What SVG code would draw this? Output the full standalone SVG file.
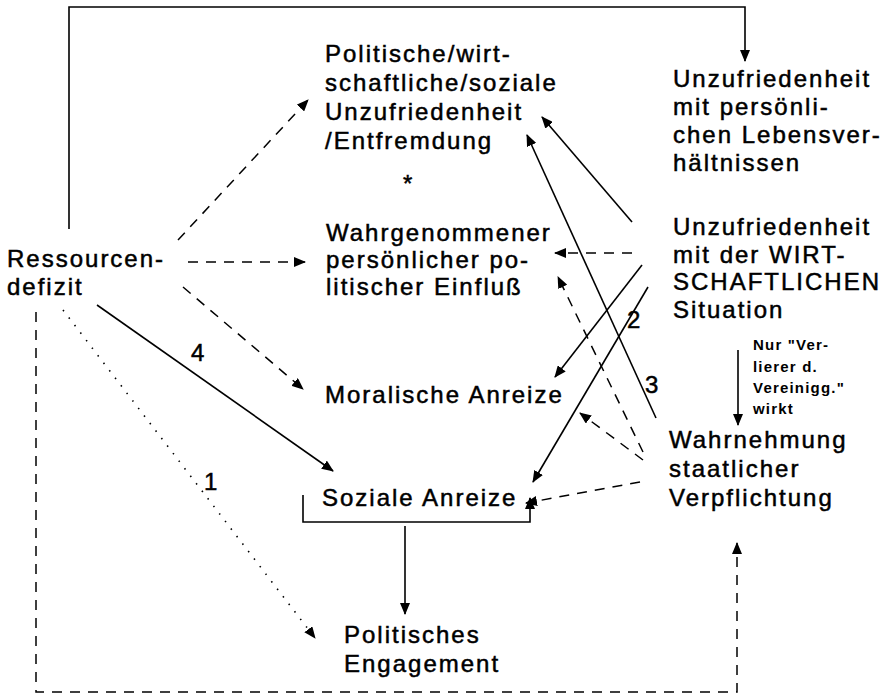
<svg xmlns="http://www.w3.org/2000/svg" width="885" height="698" viewBox="0 0 885 698">
<defs>
<marker id="ah" viewBox="0 0 12 10" refX="11" refY="5" markerWidth="12" markerHeight="10" markerUnits="userSpaceOnUse" orient="auto">
<path d="M0,0 L12,5 L0,10 Z" fill="#000"/>
</marker>
</defs>
<style>
.t{font-family:"Liberation Sans",Arial,sans-serif;font-size:24px;letter-spacing:2px;fill:#000;stroke:#000;stroke-width:0.5}
.s{font-family:"Liberation Sans",Arial,sans-serif;font-size:15px;font-weight:bold;letter-spacing:1.2px;fill:#000}
.l{fill:none;stroke:#000;stroke-width:1.6}
.d{fill:none;stroke:#000;stroke-width:1.5;stroke-dasharray:10 8}
.o{fill:none;stroke:#000;stroke-width:1.6;stroke-dasharray:1.5 8}
.a{marker-end:url(#ah)}
</style>
<rect width="885" height="698" fill="#fff"/>
<g id="connectors">
<polyline class="l a" points="69,229 69,7 745,7 745,61"/>
<polyline class="d a" points="36,312 36,692 737,692 737,543"/>
<line class="d a" x1="178" y1="240" x2="308" y2="100"/>
<line class="d a" x1="188" y1="262" x2="305" y2="262"/>
<line class="d a" x1="183" y1="287" x2="303" y2="389"/>
<line class="l a" x1="97" y1="305" x2="333" y2="471"/>
<line class="o a" x1="63" y1="310" x2="315" y2="638"/>
<line class="l a" x1="632" y1="222" x2="542" y2="117"/>
<line class="l a" x1="656" y1="418" x2="527" y2="135"/>
<line class="d a" x1="632" y1="253" x2="555" y2="253"/>
<line class="l a" x1="642" y1="265" x2="555" y2="377"/>
<line class="l a" x1="648" y1="287" x2="533" y2="482"/>
<line class="d a" x1="643" y1="452" x2="558" y2="277"/>
<line class="d a" x1="643" y1="460" x2="580" y2="413"/>
<line class="d a" x1="640" y1="482" x2="526" y2="503"/>
<polyline class="l a" points="303,495 303,522 530,522 530,498"/>
<line class="l a" x1="405" y1="526" x2="405" y2="614"/>
<line class="l a" x1="738" y1="350" x2="738" y2="425"/>
<text class="t" x="191" y="361">4</text>
<text class="t" x="204" y="490">1</text>
<text class="t" x="627" y="328">2</text>
<text class="t" x="645" y="393">3</text>
</g>
<g id="ressourcen">
<text class="t" x="7" y="267">Ressourcen-</text>
<text class="t" x="7" y="295">defizit</text>
</g>
<g id="politische-unzufriedenheit">
<text class="t" x="325" y="62">Politische/wirt-</text>
<text class="t" x="325" y="91">schaftliche/soziale</text>
<text class="t" x="325" y="120">Unzufriedenheit</text>
<text class="t" x="325" y="149">/Entfremdung</text>
<text class="t" x="403" y="192">*</text>
</g>
<g id="einfluss">
<text class="t" x="326" y="241">Wahrgenommener</text>
<text class="t" x="326" y="268">persönlicher po-</text>
<text class="t" x="326" y="295">litischer Einfluß</text>
</g>
<g id="moralische">
<text class="t" x="325" y="403">Moralische Anreize</text>
</g>
<g id="soziale">
<text class="t" x="322" y="506">Soziale Anreize</text>
</g>
<g id="engagement">
<text class="t" x="344" y="643">Politisches</text>
<text class="t" x="344" y="672">Engagement</text>
</g>
<g id="lebensverhaeltnisse">
<text class="t" x="673" y="87">Unzufriedenheit</text>
<text class="t" x="673" y="115">mit persönli-</text>
<text class="t" x="673" y="143">chen Lebensver-</text>
<text class="t" x="673" y="171">hältnissen</text>
</g>
<g id="wirtschaft">
<text class="t" x="673" y="235">Unzufriedenheit</text>
<text class="t" x="673" y="263">mit der WIRT-</text>
<text class="t" x="673" y="290">SCHAFTLICHEN</text>
<text class="t" x="673" y="318">Situation</text>
</g>
<g id="verlierer-note">
<text class="s" x="753" y="350">Nur "Ver-</text>
<text class="s" x="753" y="372">lierer d.</text>
<text class="s" x="753" y="393">Vereinigg."</text>
<text class="s" x="753" y="414">wirkt</text>
</g>
<g id="verpflichtung">
<text class="t" x="669" y="448">Wahrnehmung</text>
<text class="t" x="669" y="477">staatlicher</text>
<text class="t" x="669" y="506">Verpflichtung</text>
</g>
</svg>
